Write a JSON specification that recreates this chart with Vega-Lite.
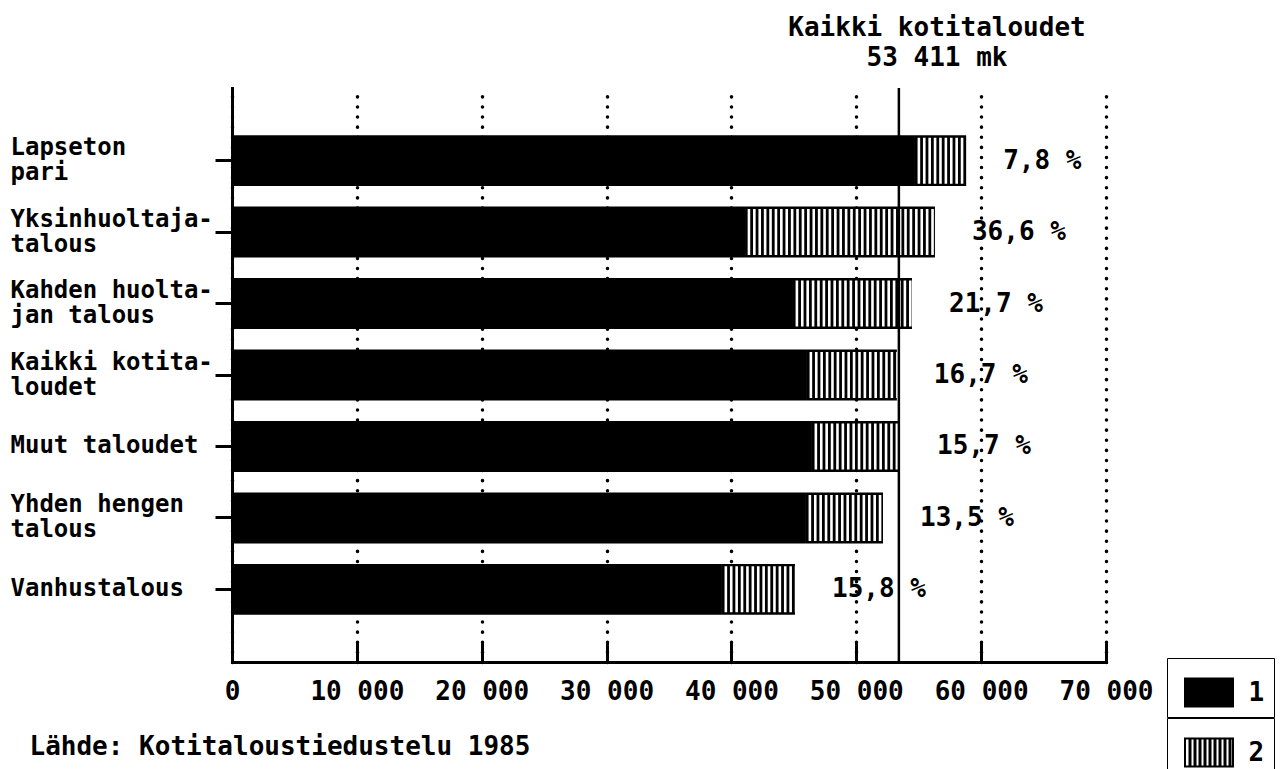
{
  "$schema": "https://vega.github.io/schema/vega-lite/v6.json",
  "width": 874,
  "height": 574,
  "autosize": "none",
  "padding": {"left": 232, "top": 88, "right": 181, "bottom": 107},
  "background": "white",
  "config": {
    "view": {"stroke": null},
    "font": "DejaVu Sans Mono"
  },
  "title": {
    "text": ["Kaikki kotitaloudet", "53 411 mk"],
    "anchor": "start",
    "align": "center",
    "dx": 705,
    "offset": 16,
    "fontSize": 26,
    "font": "DejaVu Sans Mono",
    "fontWeight": "bold",
    "lineHeight": 30,
    "color": "black",
    "frame": "group"
  },
  "datasets": {
    "households": [
      {"cat": "Lapseton\npari", "black": 54700, "total": 58800, "pct": "7,8 %"},
      {"cat": "Yksinhuoltaja-\ntalous", "black": 41090, "total": 56300, "pct": "36,6 %"},
      {"cat": "Kahden huolta-\njan talous", "black": 44930, "total": 54460, "pct": "21,7 %"},
      {"cat": "Kaikki kotita-\nloudet", "black": 46050, "total": 53250, "pct": "16,7 %"},
      {"cat": "Muut taloudet", "black": 46450, "total": 53500, "pct": "15,7 %"},
      {"cat": "Yhden hengen\ntalous", "black": 45970, "total": 52140, "pct": "13,5 %"},
      {"cat": "Vanhustalous", "black": 39240, "total": 45090, "pct": "15,8 %"}
    ],
    "reference": [{"value": 53411}]
  },
  "data": {"name": "households"},
  "resolve": {"scale": {"fill": "independent"}, "legend": {"fill": "independent"}},
  "layer": [
    {
      "mark": {"type": "bar", "stroke": null},
      "encoding": {
        "y": {
          "field": "cat",
          "type": "nominal",
          "sort": null,
          "scale": {"paddingInner": 0.287, "paddingOuter": 0.66},
          "axis": {
            "title": null,
            "domainColor": "black",
            "domainWidth": 3,
            "domainCap": "square",
            "tickColor": "black",
            "tickWidth": 3,
            "tickSize": 17,
            "labelAlign": "left",
            "labelBaseline": "middle",
            "labelPadding": 205,
            "labelOffset": {"condition": {"test": "indexof(datum.value, '\\n') >= 0", "value": -12.5}, "value": 0},
            "labelFont": "DejaVu Sans Mono",
            "labelFontSize": 24,
            "labelFontWeight": "bold",
            "labelColor": "black",
            "labelLineHeight": 25,
            "labelLimit": 400,
            "labelExpr": "split(datum.value, '\\n')"
          }
        },
        "x": {
          "field": "black",
          "type": "quantitative",
          "scale": {"domain": [0, 70000]},
          "title": "Lähde: Kotitaloustiedustelu 1985",
          "axis": {
            "values": [0, 10000, 20000, 30000, 40000, 50000, 60000, 70000],
            "domainColor": "black",
            "domainWidth": 3,
            "domainCap": "square",
            "tickColor": "black",
            "tickWidth": 3,
            "tickSize": -20,
            "labelPadding": 36,
            "labelFlush": false,
            "labelFont": "DejaVu Sans Mono",
            "labelFontSize": 26,
            "labelFontWeight": "bold",
            "labelColor": "black",
            "labelExpr": "replace(format(datum.value, ',d'), ',', ' ')",
            "grid": true,
            "gridColor": "black",
            "gridDash": [0.1, 10],
            "gridWidth": 3.5,
            "gridCap": "round",
            "titleFont": "DejaVu Sans Mono",
            "titleFontSize": 26,
            "titleFontWeight": "bold",
            "titleColor": "black",
            "titleAnchor": "start",
            "titleAlign": "left",
            "titleBaseline": "middle",
            "titleX": -203,
            "titleY": 84
          }
        },
        "fill": {
          "datum": "1",
          "scale": {"domain": ["1"], "range": ["black"]},
          "legend": {
            "orient": "none",
            "legendX": 935,
            "legendY": 570,
            "title": null,
            "symbolType": "M-0.7,-0.6H1.3V0.6H-0.7Z",
            "symbolSize": 2500,
            "symbolStrokeWidth": 0,
            "labelFont": "DejaVu Sans Mono",
            "labelFontSize": 26,
            "labelFontWeight": "bold",
            "labelColor": "black",
            "labelOffset": 22,
            "padding": 9.5,
            "strokeColor": "black"
          }
        }
      }
    },
    {
      "mark": {"type": "bar", "stroke": null},
      "encoding": {
        "y": {"field": "cat", "type": "nominal", "sort": null},
        "x": {"field": "black", "type": "quantitative", "title": "Lähde: Kotitaloustiedustelu 1985"},
        "x2": {"field": "total"},
        "fill": {
          "datum": "2",
          "scale": {"domain": ["2"], "range": ["black"]},
          "legend": {
            "orient": "none",
            "legendX": 935,
            "legendY": 630,
            "title": null,
            "symbolType": "M-0.7,-0.6H1.3V0.6H-0.7Z M-0.62,-0.52V0.52H1.22V-0.52Z M-0.52,-0.52H-0.4V0.52H-0.52Z M-0.32,-0.52H-0.2V0.52H-0.32Z M-0.12,-0.52H0V0.52H-0.12Z M0.08,-0.52H0.2V0.52H0.08Z M0.28,-0.52H0.4V0.52H0.28Z M0.48,-0.52H0.6V0.52H0.48Z M0.68,-0.52H0.8V0.52H0.68Z M0.88,-0.52H1V0.52H0.88Z M1.08,-0.52H1.2V0.52H1.08Z",
            "symbolSize": 2500,
            "symbolStrokeWidth": 0,
            "labelFont": "DejaVu Sans Mono",
            "labelFontSize": 26,
            "labelFontWeight": "bold",
            "labelColor": "black",
            "labelOffset": 22,
            "padding": 9.5,
            "strokeColor": "black"
          }
        }
      }
    },
    {
      "mark": {"type": "rule", "color": "white", "strokeWidth": 46, "strokeDash": [2.6, 2.8], "strokeDashOffset": 2.8, "strokeCap": "butt"},
      "encoding": {
        "y": {"field": "cat", "type": "nominal", "sort": null},
        "x": {"field": "black", "type": "quantitative", "title": "Lähde: Kotitaloustiedustelu 1985"},
        "x2": {"field": "total"}
      }
    },
    {
      "data": {"name": "reference"},
      "mark": {"type": "rule", "color": "black", "strokeWidth": 2.5},
      "encoding": {
        "x": {"field": "value", "type": "quantitative", "title": "Lähde: Kotitaloustiedustelu 1985"}
      }
    },
    {
      "mark": {"type": "text", "align": "left", "baseline": "middle", "dx": 37, "font": "DejaVu Sans Mono", "fontSize": 26, "fontWeight": "bold", "color": "black"},
      "encoding": {
        "y": {"field": "cat", "type": "nominal", "sort": null},
        "x": {"field": "total", "type": "quantitative", "title": "Lähde: Kotitaloustiedustelu 1985"},
        "text": {"field": "pct"}
      }
    }
  ]
}
